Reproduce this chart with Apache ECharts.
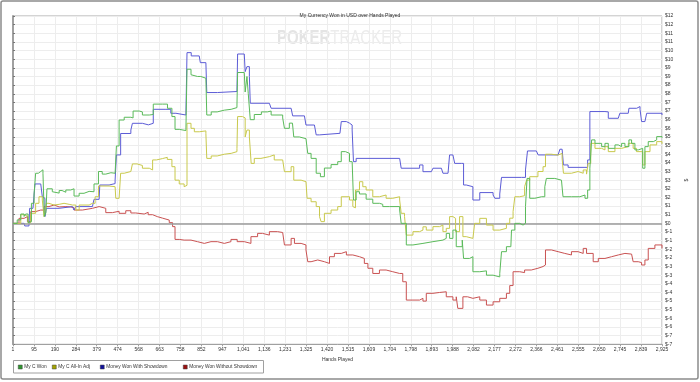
<!DOCTYPE html>
<html>
<head>
<meta charset="utf-8">
<script src="https://cdn.jsdelivr.net/npm/echarts@6/dist/echarts.min.js"></script>
<style>
html,body{margin:0;padding:0;background:#fff;}
#chart{width:700px;height:382px;}
</style>
</head>
<body>
<div id="chart"></div>
<script>
// ---- Data (hand number, dollars) ----
const tickLabels = ['1','95','190','284','379','474','568','663','758','852','947','1,041','1,136','1,231','1,325','1,420','1,515','1,609','1,704','1,798','1,893','1,988','2,082','2,177','2,272','2,366','2,461','2,555','2,650','2,745','2,839','2,925'];
const totalHands = 2925;
const seriesNames = ['My C Won','My C All-In Adj','Money Won With Showdown','Money Won Without Showdown'];

const myCWon = [[1,0],[20,0.2],[36,0.54],[51,0.4],[58,0.54],[69,0.04],[76,0.1],[84,1.16],[96,1.7],[103,2.9],[115,3.0],[126,3.1],[136,2.9],[142,0.4],[149,0.6],[154,2.0],[178,1.83],[186,1.75],[209,1.9],[222,1.8],[239,1.93],[261,2.0],[276,1.58],[299,1.74],[321,1.85],[344,1.83],[366,2.28],[386,3.0],[403,2.85],[419,2.93],[442,2.9],[461,2.95],[467,4.48],[479,5.98],[502,6.14],[532,6.1],[542,6.5],[570,6.45],[584,6.27],[615,6.3],[633,6.9],[675,6.9],[697,6.66],[717,6.18],[731,5.44],[750,5.37],[780,5.4],[785,8.92],[803,8.6],[810,8.5],[832,8.5],[847,8.4],[870,8.3],[874,6.27],[894,6.45],[921,6.55],[953,6.6],[984,6.7],[1010,6.85],[1013,8.73],[1043,8.7],[1047,7.6],[1055,8.5],[1061,7.5],[1070,6.0],[1088,6.3],[1120,6.45],[1147,6.5],[1164,6.27],[1216,6.1],[1224,5.5],[1246,5.8],[1260,5.85],[1266,5.0],[1291,4.9],[1321,4.8],[1329,4.05],[1344,3.76],[1367,2.9],[1386,2.7],[1404,3.2],[1434,3.4],[1464,3.57],[1480,4.15],[1499,4.05],[1517,3.57],[1529,3.5],[1535,1.35],[1547,1.83],[1562,1.7],[1592,1.4],[1622,1.16],[1652,1.1],[1667,0.97],[1697,0.97],[1743,0.77],[1750,0],[1773,-1.25],[1803,-1.16],[1848,-1.06],[1893,-0.97],[1938,-0.87],[1953,-0.58],[1968,-0.87],[1983,-0.39],[1998,-1.35],[2025,-0.97],[2031,-2.03],[2058,-1.93],[2073,-2.8],[2104,-2.75],[2134,-3.0],[2164,-3.1],[2194,-2.9],[2202,-1.64],[2224,-1.35],[2244,-1.25],[2247,-0.39],[2262,0],[2284,-0.1],[2299,0],[2310,0.97],[2317,2.6],[2329,1.45],[2352,1.54],[2382,1.54],[2397,2.12],[2404,2.6],[2442,2.5],[2472,2.4],[2479,1.54],[2517,1.54],[2555,1.64],[2578,1.45],[2590,1.93],[2600,3.19],[2608,4.83],[2623,4.63],[2653,4.44],[2668,4.63],[2683,4.34],[2713,4.54],[2728,4.44],[2743,4.63],[2758,4.44],[2776,4.83],[2788,4.63],[2803,4.25],[2818,4.34],[2838,3.19],[2848,4.44],[2863,4.73],[2886,4.83],[2901,5.02],[2925,4.95]];

const myCAllInAdj = [[1,0],[36,0.5],[51,0.4],[69,0.04],[81,0.58],[103,1.16],[118,1.54],[133,1.35],[141,0.39],[149,0.3],[151,1.16],[163,1.06],[186,1.1],[209,1.16],[231,1.1],[254,1.06],[269,1.06],[284,0.77],[299,1.06],[344,1.16],[359,1.16],[371,1.54],[386,2.16],[434,2.12],[461,2.12],[464,1.45],[479,1.45],[486,2.9],[502,3.0],[532,3.0],[539,3.44],[560,3.35],[584,3.19],[615,3.09],[630,3.67],[647,3.75],[675,3.82],[696,3.7],[717,3.28],[731,2.5],[750,2.28],[772,2.12],[780,2.2],[785,5.79],[803,5.5],[818,5.3],[840,5.35],[870,5.2],[874,3.76],[894,3.9],[921,4.0],[953,4.05],[984,4.15],[1010,4.34],[1013,6.18],[1035,6.1],[1047,5.0],[1055,5.4],[1066,5.0],[1074,3.47],[1088,3.76],[1118,3.86],[1156,3.96],[1178,3.67],[1216,3.57],[1224,2.99],[1254,3.28],[1266,2.5],[1299,2.41],[1321,2.35],[1326,1.45],[1344,1.25],[1367,0.97],[1382,0.39],[1389,0.1],[1404,0.58],[1434,0.77],[1464,0.97],[1480,1.54],[1517,1.35],[1532,0.97],[1540,0.9],[1544,1.93],[1562,2.41],[1577,2.12],[1592,1.93],[1622,1.54],[1652,1.64],[1682,1.45],[1712,1.54],[1743,1.35],[1750,0.58],[1765,0.4],[1773,-0.68],[1803,-0.48],[1833,-0.39],[1848,-0.2],[1863,-0.39],[1893,-0.19],[1923,-0.1],[1938,-0.48],[1953,-0.29],[1968,0.39],[1983,0.29],[1995,-0.48],[2013,0.39],[2028,-0.77],[2043,-0.87],[2073,-0.77],[2081,0],[2104,0.29],[2134,-0.1],[2164,-0.39],[2194,-0.29],[2224,0],[2239,0.3],[2254,0.68],[2262,1.54],[2284,1.6],[2306,2.12],[2315,2.5],[2329,2.7],[2366,3.0],[2389,3.28],[2400,4.0],[2427,3.95],[2457,4.05],[2475,3.76],[2481,2.9],[2517,3.0],[2547,2.9],[2570,3.09],[2585,2.85],[2592,3.47],[2604,4.63],[2623,4.34],[2653,4.25],[2668,4.44],[2683,4.15],[2713,4.34],[2743,4.44],[2773,4.63],[2795,4.34],[2810,4.15],[2838,3.38],[2848,4.15],[2871,4.54],[2901,4.73],[2925,4.6]];

const wonWithShowdown = [[1,0],[51,0],[54,-0.15],[73,-0.15],[76,0.87],[91,0.87],[100,2.28],[126,2.22],[133,1.54],[141,1.45],[145,0.39],[151,0.87],[209,0.97],[269,0.97],[276,0.77],[284,0.97],[359,1.06],[366,1.39],[389,1.45],[392,2.22],[434,2.3],[461,2.5],[467,3.96],[486,5.2],[532,5.4],[539,5.79],[584,5.7],[611,5.79],[633,6.6],[690,6.6],[712,6.37],[735,6.27],[780,6.22],[785,9.88],[804,9.69],[840,9.69],[845,9.3],[870,9.27],[874,7.57],[922,7.63],[1010,7.68],[1013,9.8],[1043,9.75],[1047,8.78],[1055,9.07],[1066,8.5],[1070,6.95],[1156,6.95],[1164,6.66],[1254,6.76],[1261,6.22],[1314,6.22],[1321,5.69],[1359,5.69],[1367,5.12],[1382,5.02],[1389,5.21],[1474,5.21],[1480,5.89],[1503,5.8],[1517,5.69],[1529,5.4],[1535,3.57],[1547,3.76],[1743,3.7],[1750,3.19],[1833,3.38],[1848,2.99],[1886,2.99],[1893,3.19],[1931,3.19],[1938,2.9],[1961,2.9],[1968,3.96],[1983,4.05],[1991,3.47],[2021,3.47],[2031,2.22],[2043,2.12],[2073,1.35],[2104,1.78],[2164,1.64],[2172,1.45],[2194,1.7],[2202,2.66],[2292,2.66],[2310,3.09],[2319,4.19],[2359,4.15],[2367,3.96],[2457,4.05],[2465,4.29],[2475,4.25],[2481,3.38],[2502,3.24],[2578,3.24],[2590,3.67],[2600,6.47],[2668,6.45],[2683,6.08],[2728,6.08],[2735,6.37],[2773,6.37],[2776,6.66],[2811,6.76],[2826,6.6],[2833,5.89],[2848,5.89],[2856,6.37],[2925,6.27]];

const wonWithoutShowdown = [[1,0],[28,0.29],[51,0.39],[66,0.1],[81,0.68],[103,0.77],[126,0.77],[141,0.97],[163,1.06],[186,0.95],[209,0.97],[239,0.95],[261,0.9],[276,0.77],[314,0.87],[359,0.97],[389,0.87],[419,0.62],[449,0.7],[479,0.58],[509,0.73],[532,0.6],[554,0.54],[592,0.64],[610,0.5],[630,0.39],[651,0.3],[675,0.19],[705,0.04],[720,-0.19],[731,-0.93],[750,-0.97],[772,-0.97],[803,-1.06],[832,-1.16],[863,-1.06],[893,-1.06],[922,-1.16],[953,-1.06],[983,-0.93],[1011,-1.06],[1043,-1.16],[1073,-0.77],[1103,-0.58],[1125,-0.68],[1156,-0.48],[1193,-0.53],[1216,-0.58],[1224,-1.25],[1254,-0.87],[1269,-1.16],[1299,-1.25],[1321,-1.54],[1329,-2.22],[1344,-2.12],[1374,-2.22],[1404,-2.32],[1427,-1.93],[1449,-1.74],[1480,-1.64],[1503,-1.83],[1532,-1.93],[1562,-2.03],[1584,-2.32],[1600,-2.6],[1622,-2.9],[1652,-2.7],[1682,-2.8],[1712,-2.9],[1743,-2.9],[1757,-3.38],[1773,-4.44],[1803,-4.44],[1833,-4.34],[1848,-4.5],[1863,-4.05],[1893,-4.0],[1923,-3.96],[1953,-4.25],[1983,-4.44],[1998,-4.25],[2005,-4.92],[2028,-4.25],[2049,-4.34],[2073,-4.25],[2104,-4.44],[2134,-4.73],[2164,-4.54],[2194,-4.34],[2224,-4.05],[2239,-3.6],[2254,-2.8],[2284,-2.85],[2306,-2.7],[2336,-2.6],[2366,-2.5],[2389,-2.41],[2400,-1.54],[2427,-1.64],[2457,-1.74],[2487,-1.83],[2517,-1.64],[2547,-1.74],[2570,-1.45],[2585,-1.74],[2615,-2.22],[2638,-2.03],[2668,-1.93],[2698,-1.83],[2728,-1.74],[2758,-1.78],[2788,-1.74],[2795,-2.22],[2818,-2.27],[2833,-2.41],[2848,-2.12],[2863,-1.45],[2893,-1.25],[2925,-1.45]];

// ---- Chart ----
const lineColors = ['#5aba5a','#c9c94c','#5c5cd6','#c95252'];
const iconColors = ['#2f962f','#a3a300','#10109a','#9a1010'];
const legendX = [18, 52, 100, 183];
const F = '"Liberation Sans", Arial, sans-serif';
const FS = 5.0;
const LFS = 4.8;

function toIdx(h){ return (h - 1) / (totalHands - 1) * (tickLabels.length - 1); }
function conv(arr){ return arr.map(p => [toIdx(p[0]), p[1]]); }
const allData = [myCWon, myCAllInAdj, wonWithShowdown, wonWithoutShowdown];

const chart = echarts.init(document.getElementById('chart'), null, {renderer:'canvas'});
const series = allData.map((d, i) => ({
  name: seriesNames[i],
  type: 'line',
  step: 'end',
  data: conv(d),
  symbol: 'none',
  showSymbol: false,
  lineStyle: {color: lineColors[i], width: 1},
  itemStyle: {color: iconColors[i]},
  z: 3 + (3 - i),
  animation: false
}));
series[0].markLine = {
  silent: true, symbol: ['none','none'], label: {show:false},
  lineStyle: {color:'#9a9a9a', width:1.5, type:'solid'},
  data: [{yAxis: 0}], animation: false
};

const legends = seriesNames.map((n, i) => ({
  left: legendX[i], top: 364.5, orient: 'horizontal', padding: 0,
  itemWidth: 4, itemHeight: 4, icon: 'rect', itemGap: 0,
  textStyle: {fontSize: LFS, color: '#333', fontFamily: F, padding: [0,0,0,-3]},
  data: [{name: n, itemStyle: {color: iconColors[i], borderColor: '#444', borderWidth: 0.5}}],
  selectedMode: false
}));

chart.setOption({
  animation: false,
  backgroundColor: '#fff',
  title: {
    text: 'My Currency Won in USD over Hands Played',
    left: 'center', top: 8,
    textStyle: {fontSize: FS, fontWeight: 'normal', color: '#333', fontFamily: F}
  },
  graphic: [
    {type:'rect', z:-10, silent:true, shape:{x:1, y:1, width:697, height:378, r:2}, style:{fill:'none', stroke:'#8c8c8c', lineWidth:1.5}},
    {type:'rect', z:-10, silent:true, shape:{x:13.5, y:360.5, width:250, height:12.5}, style:{fill:'#fff', stroke:'#a0a0a0', lineWidth:1}},
    {type:'text', z:-5, silent:true, x: 277, y: 28, scaleX: 0.75, scaleY: 1,
     style:{text:'{a|POKER}{b|TRACKER}', rich:{
        a:{fontSize:20, fontWeight:'bold', fill:'#e4e4e4', fontFamily:F},
        b:{fontSize:20, fontWeight:'normal', fill:'#ececec', fontFamily:F}}}}
  ],
  legend: legends,
  grid: {left: 13, right: 38, top: 16, bottom: 37.7, show: true, borderColor: '#a8a8a8', borderWidth: 1, containLabel: false},
  xAxis: {
    type: 'value', min: 0, max: tickLabels.length - 1, interval: 1,
    name: 'Hands Played', nameLocation: 'middle', nameGap: 11,
    nameTextStyle: {fontSize: FS, color: '#333', fontFamily: F},
    axisLine: {show: true, onZero: false, lineStyle: {color: '#a0a0a0', width: 1}},
    axisTick: {show: true, length: 2, lineStyle: {color: '#a0a0a0'}},
    splitLine: {show: true, lineStyle: {color: '#ededed', width: 1}},
    axisLabel: {fontSize: FS, color: '#333', fontFamily: F, margin: 3,
      formatter: v => tickLabels[Math.round(v)] || ''}
  },
  yAxis: {
    type: 'value', position: 'right', min: -7, max: 12, interval: 0.5,
    name: '$', nameLocation: 'middle', nameGap: 13, nameRotate: 90,
    nameTextStyle: {fontSize: FS, color: '#333', fontFamily: F},
    axisLine: {show: true, lineStyle: {color: '#a0a0a0', width: 2}},
    axisTick: {show: true, length: 2, lineStyle: {color: '#777'}},
    splitLine: {show: true, lineStyle: {color: '#ededed', width: 1}},
    axisLabel: {fontSize: FS, color: '#333', fontFamily: F, margin: 3,
      formatter: v => '$' + (v < 0 ? '-' : '') + Math.round(Math.abs(v) + 1e-9)}
  },
  series: series
});
</script>
</body>
</html>
